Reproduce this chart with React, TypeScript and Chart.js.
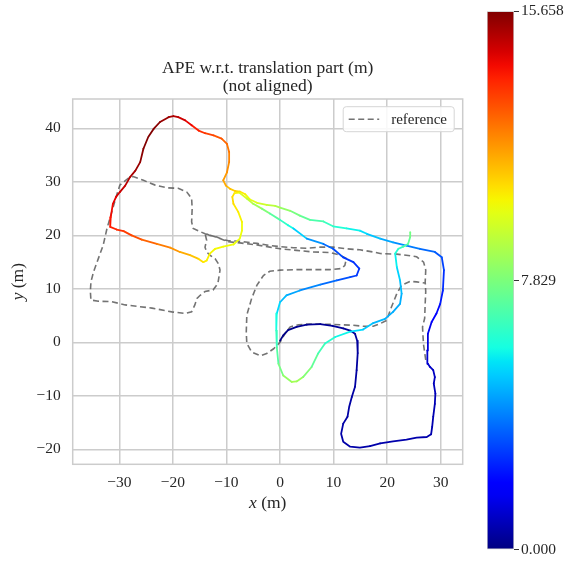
import React, { useEffect, useRef } from 'react';
import { Chart, registerables } from 'chart.js';

Chart.register(...registerables);

const FONT = "'Liberation Serif', 'DejaVu Serif', serif";
const TEXT = '#262626';
const GRID = '#cccccc';

const titleLines = ['APE w.r.t. translation part (m)', '(not aligned)'];
const xLabelVar = 'x';
const yLabelVar = 'y';
const axisUnit = ' (m)';
const refLabel = 'reference';

const xTicks = [-30, -20, -10, 0, 10, 20, 30];
const yTicks = [-20, -10, 0, 10, 20, 30, 40];
const xRange = [-38.7, 34.1];
const yRange = [-22.8, 45.5];
const errTicks = [0, 7.829, 15.658];
const errMax = 15.658;

// estimated trajectory (x, y in m) and APE value per pose
const estX = [
  0.0, 0.6, 1.5, 3.1, 5.0, 7.5, 9.8, 11.8, 13.1, 14.0, 14.4, 14.5, 14.3, 14.0, 13.4, 12.9, 12.6, 11.8, 11.4, 11.8,
  13.1, 14.9, 16.8, 18.7, 21.1, 23.6, 25.5, 27.4, 28.2, 28.4, 28.6, 28.9, 29.0, 28.7, 28.9, 28.6, 28.0, 27.6, 27.5, 27.6,
  28.3, 29.2, 29.9, 30.4, 30.6, 30.2, 28.9, 26.1, 23.6, 21.1, 18.7, 16.2, 14.9, 12.4, 9.9, 8.1, 5.6, 3.7, 1.9, 0.0,
  -0.9, -2.5, -4.3, -5.6, -6.5, -7.5, -8.4, -9.3, -10.1, -10.6, -9.9, -9.5, -9.5, -9.9, -10.9, -12.4, -14.0, -15.2, -16.5, -17.7,
  -19.0, -19.9, -20.8, -22.4, -23.6, -24.6, -25.5, -26.1, -27.0, -28.0, -28.9, -29.9, -30.6, -31.2, -31.6, -31.7, -30.5, -29.2, -27.7, -25.8,
  -23.0, -20.5, -18.7, -16.8, -15.2, -14.3, -13.7, -13.1, -12.1, -10.6, -8.7, -7.5, -7.1, -7.1, -7.8, -8.7, -8.9, -8.5, -7.6, -6.2,
  -5.0, -3.4, -1.9, 0.0, 1.5, 2.5, 5.0, 8.1, 9.9, 11.8, 13.7, 14.8, 14.3, 13.1, 10.6, 7.5, 3.7, 1.2, 0.0, -0.6,
  -0.7, -0.6, -0.3, 0.6, 2.2, 3.1, 4.3, 5.9, 7.1, 8.4, 10.3, 13.1, 15.5, 17.4, 19.6, 21.1, 22.4, 22.7, 22.4, 21.8,
  21.5, 22.1, 23.0, 23.9, 24.3, 24.3,
];
const estY = [
  0.3, 1.3, 2.3, 2.9, 3.3, 3.4, 3.1, 2.6, 2.2, 1.6, 0.3, -2.0, -5.2, -8.3, -10.2, -12.1, -13.9, -15.2, -17.1, -18.6,
  -19.5, -19.7, -19.4, -18.9, -18.5, -18.2, -17.8, -17.7, -17.2, -15.8, -13.9, -11.5, -9.6, -7.7, -6.5, -5.2, -4.6, -4.0, -1.5, 1.6,
  3.8, 5.4, 7.2, 9.7, 13.5, 15.9, 16.9, 17.5, 18.1, 18.7, 19.4, 20.3, 20.9, 21.3, 21.7, 22.6, 22.9, 23.7, 24.6, 25.2,
  25.5, 25.7, 26.1, 26.7, 27.7, 28.2, 28.3, 28.7, 29.3, 30.3, 31.8, 33.7, 35.6, 37.1, 38.1, 38.7, 39.1, 39.6, 40.6, 41.5,
  42.1, 42.3, 42.1, 41.2, 39.9, 38.4, 36.2, 33.7, 32.1, 30.9, 29.3, 28.1, 27.2, 25.9, 23.4, 21.6, 21.1, 20.8, 20.0, 19.2,
  18.4, 17.7, 16.9, 16.3, 15.6, 15.0, 15.3, 16.6, 17.5, 17.9, 18.3, 19.4, 20.9, 22.5, 24.4, 25.9, 27.2, 27.9, 28.0, 26.9,
  25.9, 25.0, 24.1, 22.9, 21.9, 21.3, 19.4, 18.4, 17.5, 15.9, 15.0, 13.8, 12.5, 12.2, 11.6, 10.8, 9.7, 8.8, 7.5, 5.4,
  2.2, -0.9, -4.0, -6.2, -7.4, -7.3, -6.5, -4.6, -2.1, -0.2, 1.0, 2.0, 2.4, 3.6, 4.4, 5.7, 7.2, 9.1, 11.6, 14.1,
  16.6, 17.5, 17.9, 18.4, 19.7, 20.6,
];
const estErr = [
  0.05, 0.1, 0.15, 0.2, 0.25, 0.3, 0.3, 0.35, 0.35, 0.4, 0.4, 0.4, 0.45, 0.45, 0.5, 0.5, 0.5, 0.55, 0.55, 0.55,
  0.55, 0.55, 0.55, 0.6, 0.6, 0.6, 0.6, 0.6, 0.6, 0.65, 0.65, 0.7, 0.75, 0.8, 0.85, 0.9, 0.95, 1.0, 1.15, 1.35,
  1.6, 1.9, 2.2, 2.5, 2.8, 3.1, 3.4, 3.7, 4.0, 4.3, 4.7, 5.2, 5.5, 5.9, 6.3, 6.7, 7.1, 7.5, 8.0, 8.5,
  8.9, 9.2, 9.6, 9.9, 10.2, 10.5, 10.8, 11.0, 11.3, 11.6, 11.8, 12.0, 12.2, 12.4, 12.7, 13.0, 13.3, 13.6, 14.0, 14.4,
  14.8, 15.0, 15.2, 15.45, 15.6, 15.658, 15.6, 15.4, 15.2, 15.0, 14.8, 14.6, 14.4, 14.2, 14.0, 13.8, 13.6, 13.4, 13.1, 12.8,
  12.4, 12.0, 11.6, 11.2, 10.8, 10.4, 10.3, 10.2, 10.1, 10.1, 10.0, 10.0, 10.0, 10.1, 10.3, 10.5, 10.7, 10.4, 10.0, 9.3,
  8.8, 8.2, 7.6, 6.7, 6.1, 5.6, 4.7, 3.8, 3.3, 2.9, 2.7, 2.7, 2.8, 3.0, 3.4, 3.8, 4.3, 4.7, 5.0, 5.6,
  6.2, 6.8, 7.4, 8.0, 8.6, 8.6, 8.3, 7.6, 7.0, 6.5, 6.0, 5.5, 5.2, 4.9, 4.7, 4.6, 4.6, 4.7, 5.0, 5.4,
  5.9, 6.3, 6.7, 7.1, 7.5, 7.8,
];

// reference trajectory (x, y in m)
const refX = [
  27.2, 26.8, 26.7, 26.6, 27.0, 27.1, 27.2, 27.1, 27.2, 26.8, 25.5, 24.9, 21.8, 18.7, 17.4, 14.9, 12.4, 9.9, 7.5, 5.0,
  2.5, 0.0, -1.9, -4.3, -7.5, -9.6, -10.6, -11.8, -13.1, -14.0, -13.7, -14.0, -13.7, -13.1, -12.1, -11.5, -11.2, -11.6, -12.5, -14.0,
  -14.9, -15.5, -15.9, -16.5, -17.7, -20.2, -23.9, -28.9, -31.4, -33.9, -35.3, -35.4, -35.3, -34.8, -33.9, -33.0, -32.3, -31.4, -30.5, -29.9,
  -28.3, -27.4, -25.5, -23.3, -21.1, -19.0, -17.4, -16.5, -16.4, -16.5, -16.2, -14.9, -14.0, -12.0, -9.6, -7.5, -4.3, -1.9, 0.0, 3.1,
  6.2, 9.3, 11.2, 12.4, 12.1, 11.5, 9.3, 6.2, 3.1, 0.0, -1.9, -3.1, -4.3, -5.3, -6.2, -6.3, -6.2, -5.3, -3.7, -2.5,
  -1.2, 0.0, 0.9, 1.9, 3.5, 5.6, 8.0, 11.2, 13.6, 15.5, 17.4, 18.7, 19.9, 20.8, 21.8, 22.7, 24.3, 25.5, 27.0,
];
const refY = [
  -3.3, -0.5, 1.0, 2.9, 4.5, 7.3, 9.5, 11.3, 13.5, 15.0, 16.0, 16.1, 16.5, 16.6, 16.9, 17.3, 17.5, 17.8, 17.8, 17.6,
  17.7, 17.9, 18.1, 18.5, 18.9, 19.0, 19.2, 19.7, 20.0, 20.4, 19.1, 17.8, 16.9, 16.3, 15.6, 14.7, 13.5, 11.0, 9.8, 9.5,
  8.8, 8.2, 7.0, 5.7, 5.4, 5.7, 6.4, 7.0, 7.6, 7.7, 7.9, 9.5, 11.3, 13.2, 15.7, 18.2, 21.3, 24.4, 27.5, 29.4,
  30.7, 31.0, 30.3, 29.4, 28.9, 28.8, 28.1, 26.9, 25.0, 22.5, 21.3, 20.7, 20.3, 19.7, 18.8, 18.6, 18.2, 17.8, 17.5, 17.2,
  16.9, 16.8, 16.3, 15.7, 14.4, 13.8, 13.6, 13.6, 13.6, 13.5, 13.3, 12.5, 10.7, 8.2, 5.1, 1.9, -0.2, -1.8, -2.5, -2.1,
  -1.2, 0.0, 1.6, 2.9, 3.3, 3.4, 3.4, 3.3, 3.2, 3.0, 3.0, 3.5, 4.1, 6.6, 9.1, 10.7, 11.4, 11.3, 11.1,
];

const REF_COLOR = 'rgba(90,90,90,0.85)';
const REF_DASH = [6, 3.5];

function interp(t: number, pts: number[][]) {
  for (let i = 1; i < pts.length; i++) {
    if (t <= pts[i][0]) {
      const [x0, y0] = pts[i - 1];
      const [x1, y1] = pts[i];
      return y0 + ((t - x0) / (x1 - x0 || 1)) * (y1 - y0);
    }
  }
  return pts[pts.length - 1][1];
}

function jet(t: number) {
  const v = Math.max(0, Math.min(1, t));
  const r = interp(v, [[0, 0], [0.35, 0], [0.66, 1], [0.89, 1], [1, 0.5]]);
  const g = interp(v, [[0, 0], [0.125, 0], [0.375, 1], [0.64, 1], [0.91, 0], [1, 0]]);
  const b = interp(v, [[0, 0.5], [0.11, 1], [0.34, 1], [0.65, 0], [1, 0]]);
  return `rgb(${Math.round(r * 255)},${Math.round(g * 255)},${Math.round(b * 255)})`;
}

const fmtTick = (v: number) => (v < 0 ? '\u2212' + Math.abs(v) : String(v));

function drawMixed(ctx: CanvasRenderingContext2D, v: string, u: string, cx: number, cy: number, size: number) {
  ctx.font = `italic ${size}px ${FONT}`;
  const wv = ctx.measureText(v).width;
  ctx.font = `${size}px ${FONT}`;
  const wu = ctx.measureText(u).width;
  const start = cx - (wv + wu) / 2;
  ctx.textAlign = 'left';
  ctx.textBaseline = 'middle';
  ctx.font = `italic ${size}px ${FONT}`;
  ctx.fillText(v, start, cy);
  ctx.font = `${size}px ${FONT}`;
  ctx.fillText(u, start + wv, cy);
}

const overlayPlugin = {
  id: 'overlay',
  afterDatasetsDraw(chart: any) {
    const { ctx, chartArea: a } = chart;
    ctx.save();
    ctx.strokeStyle = GRID;
    ctx.lineWidth = 1.5;
    ctx.strokeRect(a.left, a.top, a.right - a.left, a.bottom - a.top);

    // legend
    const lw = 111;
    const lh = 25;
    const lx = a.right - 8.5 - lw;
    const ly = a.top + 7.7;
    ctx.beginPath();
    if ((ctx as any).roundRect) (ctx as any).roundRect(lx, ly, lw, lh, 3);
    else ctx.rect(lx, ly, lw, lh);
    ctx.fillStyle = 'rgba(255,255,255,0.85)';
    ctx.fill();
    ctx.strokeStyle = '#d6d6d6';
    ctx.lineWidth = 1;
    ctx.stroke();
    ctx.beginPath();
    ctx.setLineDash(REF_DASH);
    ctx.strokeStyle = REF_COLOR;
    ctx.lineWidth = 1.6;
    ctx.moveTo(lx + 5.5, ly + lh / 2);
    ctx.lineTo(lx + 36, ly + lh / 2);
    ctx.stroke();
    ctx.setLineDash([]);
    ctx.fillStyle = TEXT;
    ctx.font = `15px ${FONT}`;
    ctx.textAlign = 'left';
    ctx.textBaseline = 'middle';
    ctx.fillText(chart.data.datasets[1].label, lx + 48, ly + lh / 2 + 0.5);
    ctx.restore();
  },
  afterDraw(chart: any) {
    const { ctx, chartArea: a } = chart;
    ctx.save();
    ctx.fillStyle = TEXT;
    ctx.font = `17.5px ${FONT}`;
    ctx.textAlign = 'center';
    ctx.textBaseline = 'middle';
    const cx = (a.left + a.right) / 2;
    ctx.fillText(titleLines[0], cx, a.top - 31);
    ctx.fillText(titleLines[1], cx, a.top - 13);
    drawMixed(ctx, xLabelVar, axisUnit, cx, a.bottom + 39, 17.5);
    ctx.translate(18, (a.top + a.bottom) / 2);
    ctx.rotate(-Math.PI / 2);
    drawMixed(ctx, yLabelVar, axisUnit, 0, 0, 17.5);
    ctx.restore();
  },
};

export default function App() {
  const mainRef = useRef<HTMLCanvasElement | null>(null);
  const barRef = useRef<HTMLCanvasElement | null>(null);

  useEffect(() => {
    if (!mainRef.current || !barRef.current) return;
    const est = estX.map((x, i) => ({ x, y: estY[i] }));
    const ref = refX.map((x, i) => ({ x, y: refY[i] }));
    const tickFont = { family: FONT, size: 15.5 };

    const main = new Chart(mainRef.current, {
      type: 'scatter',
      data: {
        datasets: [
          {
            label: 'estimate',
            data: est,
            showLine: true,
            pointRadius: 0,
            borderWidth: 1.8,
            borderCapStyle: 'round',
            borderJoinStyle: 'round',
            borderColor: jet(0),
            segment: {
              borderColor: (c: any) =>
                jet((estErr[c.p0DataIndex] + estErr[c.p1DataIndex]) / 2 / errMax),
            },
          } as any,
          {
            label: refLabel,
            data: ref,
            showLine: true,
            pointRadius: 0,
            borderWidth: 1.6,
            borderColor: REF_COLOR,
            borderDash: REF_DASH,
          } as any,
        ],
      },
      options: {
        animation: false,
        responsive: false,
        devicePixelRatio: 1,
        layout: { padding: { top: 99, right: 17.3, left: 0, bottom: 0 } },
        plugins: { legend: { display: false }, tooltip: { enabled: false }, title: { display: false } },
        scales: {
          x: {
            type: 'linear',
            min: xRange[0],
            max: xRange[1],
            afterBuildTicks: (s: any) => {
              s.ticks = xTicks.map((v) => ({ value: v }));
            },
            afterFit: (s: any) => {
              s.height = 96.7;
            },
            ticks: { font: tickFont, color: TEXT, padding: 9, autoSkip: false, maxRotation: 0, callback: (v: any) => fmtTick(Number(v)) },
            grid: { color: GRID, lineWidth: 1.5, drawTicks: false },
            border: { display: false },
          },
          y: {
            type: 'linear',
            min: yRange[0],
            max: yRange[1],
            afterBuildTicks: (s: any) => {
              s.ticks = yTicks.map((v) => ({ value: v }));
            },
            afterFit: (s: any) => {
              s.width = 72.7;
            },
            ticks: { font: tickFont, color: TEXT, padding: 12, autoSkip: false, callback: (v: any) => fmtTick(Number(v)) },
            grid: { color: GRID, lineWidth: 1.5, drawTicks: false },
            border: { display: false },
          },
        },
      } as any,
      plugins: [overlayPlugin],
    });

    const bar = new Chart(barRef.current, {
      type: 'bar',
      data: {
        labels: [''],
        datasets: [
          {
            data: [errMax],
            backgroundColor: (c: any) => {
              const area = c.chart.chartArea;
              if (!area) return jet(0.5);
              const g = c.chart.ctx.createLinearGradient(0, area.bottom, 0, area.top);
              for (let i = 0; i <= 40; i++) g.addColorStop(i / 40, jet(i / 40));
              return g;
            },
            borderColor: GRID,
            borderWidth: 1,
            borderSkipped: false,
            barPercentage: 1,
            categoryPercentage: 1,
          } as any,
        ],
      },
      options: {
        animation: false,
        responsive: false,
        devicePixelRatio: 1,
        layout: { padding: { top: 10, bottom: 10, left: 7, right: 0 } },
        plugins: { legend: { display: false }, tooltip: { enabled: false } },
        scales: {
          x: { display: false },
          y: {
            position: 'right',
            min: 0,
            max: errMax,
            afterBuildTicks: (s: any) => {
              s.ticks = errTicks.map((v) => ({ value: v }));
            },
            afterFit: (s: any) => {
              s.width = 61;
            },
            ticks: { font: tickFont, color: TEXT, padding: 2, autoSkip: false, callback: (v: any) => Number(v).toFixed(3) },
            grid: { drawOnChartArea: false, drawTicks: true, tickLength: 5, color: '#333333', lineWidth: 1 },
            border: { display: false },
          },
        },
      } as any,
    });

    return () => {
      main.destroy();
      bar.destroy();
    };
  }, []);

  return (
    <div style={{ position: 'fixed', left: 0, top: 0, width: 575, height: 561, background: '#ffffff' }}>
      <canvas ref={mainRef} width={480} height={561} style={{ position: 'absolute', left: 0, top: 0, width: 480, height: 561 }} />
      <canvas ref={barRef} width={95} height={561} style={{ position: 'absolute', left: 480, top: 0, width: 95, height: 561 }} />
    </div>
  );
}
